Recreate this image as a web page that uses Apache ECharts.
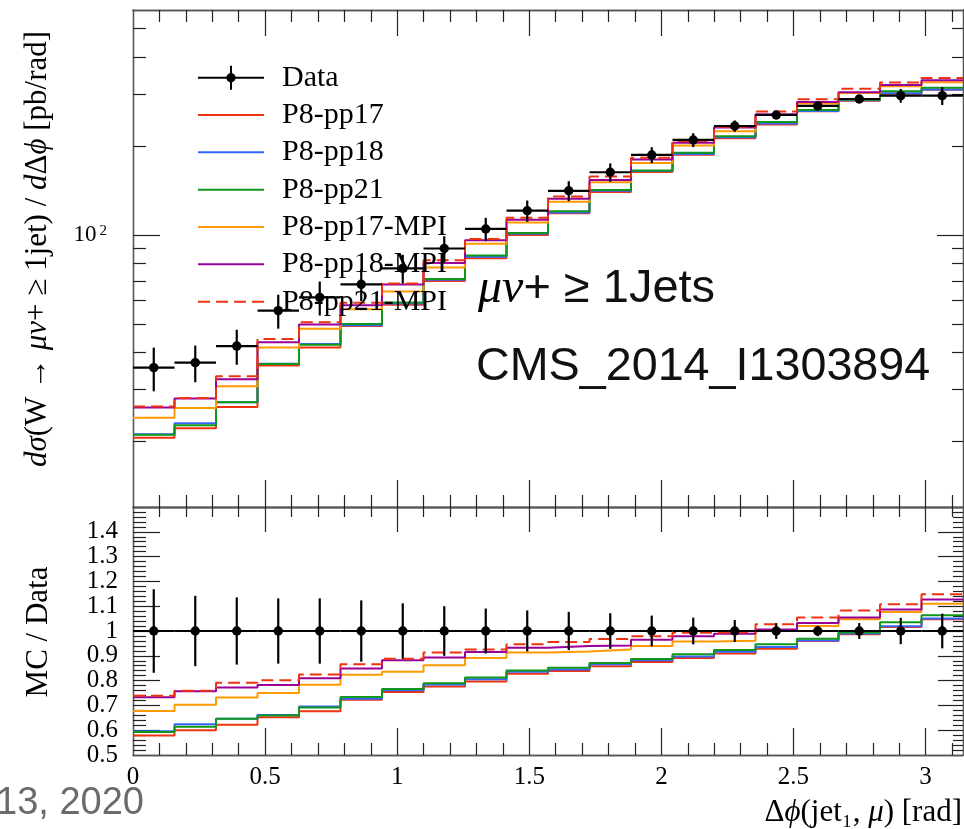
<!DOCTYPE html>
<html><head><meta charset="utf-8">
<script src="https://cdn.jsdelivr.net/npm/echarts@6/dist/echarts.min.js"></script>
<style>html,body{margin:0;padding:0;background:#fff}#c{width:964px;height:829px}</style>
</head><body><div id="c"></div>
<script>
// ---------------- data ----------------
const binEdges = [0, 0.1571, 0.3142, 0.4712, 0.6283, 0.7854, 0.9425, 1.0996, 1.2566, 1.4137, 1.5708,
  1.7279, 1.8850, 2.0420, 2.1991, 2.3562, 2.5133, 2.6704, 2.8274, 2.9845, 3.1416];
const dataVals = [35.6, 37.0, 42.1, 55.5, 61.5, 68.1, 77.1, 90.0, 104.8, 120.8, 141.1, 163.0, 186.5, 209.6, 233.7, 254.6, 273.2, 288.4, 296.0, 296.0];
const dataErr  = [6.0, 5.25, 5.7, 7.3, 8.1, 8.4, 8.6, 9.0, 9.5, 10.0, 10.9, 11.7, 11.6, 11.3, 10.3, 8.1, 5.7, 9.2, 15.7, 20.7];
const mcNames = ['P8-pp17', 'P8-pp18', 'P8-pp21', 'P8-pp17-MPI', 'P8-pp18-MPI', 'P8-pp21-MPI'];
const pp17    = [20.6, 22.2, 26.2, 36.2, 41.6, 49.2, 58.1, 69.9, 83.5, 100.0, 118.4, 139.9, 163.2, 186.8, 212.4, 236.5, 262.3, 284.7, 300.7, 309.9];
const pp18    = [21.2, 23.1, 27.2, 36.7, 42.8, 49.5, 58.7, 70.6, 84.4, 100.9, 119.2, 141.2, 164.5, 188.0, 214.1, 238.1, 262.6, 285.5, 301.6, 310.8];
const pp21    = [21.1, 22.7, 27.2, 36.6, 42.5, 50.0, 59.1, 71.0, 85.2, 101.6, 120.2, 142.0, 165.4, 189.9, 215.7, 240.9, 264.7, 286.7, 306.4, 314.7];
const pp17MPI = [24.1, 26.0, 30.8, 41.6, 48.2, 56.1, 64.4, 77.6, 93.4, 110.3, 129.5, 150.9, 175.3, 200.8, 224.4, 254.6, 278.7, 302.0, 318.8, 328.6];
const pp18MPI = [26.1, 28.0, 32.5, 43.4, 49.8, 57.8, 68.0, 80.4, 95.9, 112.6, 132.6, 153.4, 180.0, 205.2, 231.1, 256.1, 281.9, 304.0, 321.8, 333.6];
const pp21MPI = [26.3, 28.1, 33.3, 44.5, 50.7, 59.0, 68.5, 82.2, 97.0, 114.3, 134.9, 157.8, 182.6, 208.1, 232.5, 261.5, 288.0, 312.3, 328.0, 339.8];
const mcValues = [pp17, pp18, pp21, pp17MPI, pp18MPI, pp21MPI];
const xTickLabels = [0, 0.5, 1, 1.5, 2, 2.5, 3];
const ratioTickLabels = [0.5, 0.6, 0.7, 0.8, 0.9, 1, 1.1, 1.2, 1.3, 1.4];
const logTickLabels = [100];
const logMinorTicks = [20, 30, 40, 50, 60, 70, 80, 90, 200, 300, 400, 500];

// ---------------- styles ----------------
const mcColors = ['#EE3311', '#3366FF', '#109618', '#FF9900', '#990099', '#EE3311'];
const mcDash = ['solid', 'solid', 'solid', 'solid', 'solid', [12, 6]];
const SERIF = 'Liberation Serif';
const SANS = 'Liberation Sans';
const FRAME = '#555';
const TICK = '#222';

// tick helpers
const xMajor = [0.5, 1, 1.5, 2, 2.5, 3];
const xMinor = [];
for (let k = 1; k <= 31; k++) if (k % 5 !== 0) xMinor.push(+(k * 0.1).toFixed(2));
const rMajor = [0.6, 0.7, 0.8, 0.9, 1, 1.1, 1.2, 1.3, 1.4];
const rMinor = [];
for (let k = 26; k <= 74; k++) if (k % 5 !== 0) rMinor.push(+(k * 0.02).toFixed(2));
// labels split over two axes so that the library's overlap check never drops one
const ratioLabelsA = ratioTickLabels.filter((v, i) => i % 2 === 0);
const ratioLabelsB = ratioTickLabels.filter((v, i) => i % 2 === 1);

const XMAX = binEdges[binEdges.length - 1];

function xAx(grid, pos, ticks, len, labels) {
  return {
    type: 'value', gridIndex: grid, position: pos, min: 0, max: XMAX,
    axisLine: { show: true, onZero: false, lineStyle: { color: FRAME, width: 1.3 } },
    axisTick: { show: true, inside: true, length: len, customValues: ticks, lineStyle: { color: TICK, width: 1.2 } },
    axisLabel: labels ? {
      show: true, customValues: labels, margin: 10, showMinLabel: true, showMaxLabel: true,
      fontFamily: SERIF, fontSize: 25, color: '#000',
      formatter: v => String(Math.round(v * 10) / 10)
    } : { show: false },
    splitLine: { show: false }
  };
}
function yLog(pos, ticks, len, labels) {
  return {
    type: 'log', logBase: 10, gridIndex: 0, position: pos, min: 12.02, max: 576.8,
    axisLine: { show: true, onZero: false, lineStyle: { color: FRAME, width: 1.3 } },
    axisTick: { show: true, inside: true, length: len, customValues: ticks, lineStyle: { color: TICK, width: 1.2 } },
    axisLabel: labels ? {
      show: true, customValues: labels, margin: 26,
      formatter: () => '{a|10}{b|2}',
      rich: { a: { fontFamily: SERIF, fontSize: 23, color: '#000' },
              b: { fontFamily: SERIF, fontSize: 15, color: '#000', verticalAlign: 'top', padding: [0, 0, 0, 3] } }
    } : { show: false },
    splitLine: { show: false }
  };
}
function yRatio(pos, ticks, len, labels) {
  return {
    type: 'value', gridIndex: 1, position: pos, min: 0.5, max: 1.5,
    axisLine: { show: true, onZero: false, lineStyle: { color: FRAME, width: 1.3 } },
    axisTick: { show: true, inside: true, length: len, customValues: ticks, lineStyle: { color: TICK, width: 1.2 } },
    axisLabel: labels ? {
      show: true, customValues: labels, margin: 15, showMinLabel: true, showMaxLabel: true,
      fontFamily: SERIF, fontSize: 25, color: '#000',
      formatter: v => String(Math.round(v * 10) / 10)
    } : { show: false },
    splitLine: { show: false }
  };
}

function stepData(vals) {
  const pts = vals.map((v, i) => [binEdges[i], v]);
  pts.push([binEdges[binEdges.length - 1], vals[vals.length - 1]]);
  return pts;
}

function dataRender(params, api) {
  const xl = api.value(0), xh = api.value(1), xc = api.value(2), y = api.value(3), e = api.value(4);
  const pl = api.coord([xl, y]), ph = api.coord([xh, y]), pc = api.coord([xc, y]);
  const pt = api.coord([xc, y + e]), pb = api.coord([xc, y - e]);
  return { type: 'group', children: [
    { type: 'line', shape: { x1: pl[0], y1: pl[1], x2: ph[0], y2: ph[1] }, style: { stroke: '#000', lineWidth: 2.2 } },
    { type: 'line', shape: { x1: pc[0], y1: pt[1], x2: pc[0], y2: pb[1] }, style: { stroke: '#000', lineWidth: 2.2 } },
    { type: 'circle', shape: { cx: pc[0], cy: pc[1], r: 4.7 }, style: { fill: '#000' } }
  ] };
}

const upperData = dataVals.map((v, i) => [binEdges[i], binEdges[i + 1], (binEdges[i] + binEdges[i + 1]) / 2, v, dataErr[i]]);
const lowerData = dataVals.map((v, i) => [binEdges[i], binEdges[i + 1], (binEdges[i] + binEdges[i + 1]) / 2, 1, dataErr[i] / v]);

const series = [];
mcNames.forEach((n, k) => {
  series.push({
    name: n, type: 'line', step: 'end', xAxisIndex: 0, yAxisIndex: 0,
    data: stepData(mcValues[k]), symbol: 'none', z: 3,
    lineStyle: { color: mcColors[k], width: 2, type: mcDash[k] }, itemStyle: { color: mcColors[k] }
  });
  series.push({
    name: n, type: 'line', step: 'end', xAxisIndex: 4, yAxisIndex: 4,
    data: stepData(mcValues[k].map((v, i) => v / dataVals[i])), symbol: 'none', z: 3,
    lineStyle: { color: mcColors[k], width: 2, type: mcDash[k] }, itemStyle: { color: mcColors[k] }
  });
});
series.push({
  name: 'Data', type: 'custom', xAxisIndex: 0, yAxisIndex: 0, data: upperData,
  encode: { x: [0, 1, 2], y: 3 }, renderItem: dataRender, itemStyle: { color: '#000' }, z: 5
});
series.push({
  name: 'Data', type: 'custom', xAxisIndex: 4, yAxisIndex: 4, data: lowerData,
  encode: { x: [0, 1, 2], y: 3 }, renderItem: dataRender, itemStyle: { color: '#000' }, z: 5
});

const dataIcon = 'path://M0,11 H66 V13 H0 Z M32,0 H34 V24 H32 Z M28.3,12 A4.7,4.7 0 1,1 37.7,12 A4.7,4.7 0 1,1 28.3,12 Z';

const option = {
  animation: false,
  backgroundColor: '#fff',
  grid: [
    { left: 133, top: 10, width: 830, height: 497 },
    { left: 133, top: 507, width: 830, height: 248 }
  ],
  xAxis: [
    xAx(0, 'bottom', xMajor, 27), xAx(0, 'bottom', xMinor, 12),
    xAx(0, 'top', xMajor, 26), xAx(0, 'top', xMinor, 12),
    xAx(1, 'bottom', xMajor, 27, xTickLabels), xAx(1, 'bottom', xMinor, 12),
    xAx(1, 'top', xMajor, 25), xAx(1, 'top', xMinor, 10)
  ],
  yAxis: [
    yLog('left', logTickLabels, 27, logTickLabels), yLog('left', logMinorTicks, 13),
    yLog('right', logTickLabels, 26), yLog('right', logMinorTicks, 11),
    yRatio('left', rMajor, 27, ratioLabelsA), yRatio('left', rMinor, 13, ratioLabelsB),
    yRatio('right', rMajor, 25), yRatio('right', rMinor, 10)
  ],
  legend: {
    orient: 'vertical', left: 192, top: 57.7, itemWidth: 66, itemHeight: 24, itemGap: 7.33,
    selectedMode: false,
    data: [{ name: 'Data', icon: dataIcon }].concat(mcNames.map(n => ({ name: n, itemStyle: { opacity: 0 } }))),
    textStyle: { fontFamily: SERIF, fontSize: 30, color: '#000', padding: [0, 0, 0, 13] }
  },
  series: series,
  graphic: [
    { type: 'text', x: 478, y: 289, z: 10, style: {
      text: '{m|μν}{s|+ ≥ 1Jets}', verticalAlign: 'middle',
      rich: { m: { fontFamily: SERIF, fontStyle: 'italic', fontSize: 48, fill: '#000' },
              s: { fontFamily: SANS, fontSize: 47, fill: '#111' } } } },
    { type: 'text', x: 476, y: 366.7, z: 10, style: {
      text: 'CMS_2014_I1303894', fontFamily: SANS, fontSize: 46.7, fill: '#111', verticalAlign: 'middle' } },
    { type: 'text', x: 38, y: 249, rotation: Math.PI / 2, z: 10, style: {
      text: '{i|dσ}{n|(W → }{i|μν}{n|+ ≥ 1jet) / }{i|d}{n|Δ}{i|ϕ}{n| [pb/rad]}', align: 'center', verticalAlign: 'middle',
      rich: { i: { fontFamily: SERIF, fontStyle: 'italic', fontSize: 31, fill: '#000' },
              n: { fontFamily: SERIF, fontSize: 31, fill: '#000' } } } },
    { type: 'text', x: 39, y: 632, rotation: Math.PI / 2, z: 10, style: {
      text: 'MC / Data', align: 'center', verticalAlign: 'middle', fontFamily: SERIF, fontSize: 31, fill: '#000' } },
    { type: 'text', x: 962, y: 813, z: 10, style: {
      text: '{n|Δ}{i|ϕ}{n|(jet₁, }{i|μ}{n|) [rad]}', align: 'right', verticalAlign: 'middle',
      rich: { i: { fontFamily: SERIF, fontStyle: 'italic', fontSize: 31, fill: '#000' },
              n: { fontFamily: SERIF, fontSize: 31, fill: '#000' } } } },
    { type: 'text', x: 144, y: 804, z: 10, style: {
      text: '13, 2020', align: 'right', verticalAlign: 'middle', fontFamily: SANS, fontSize: 38, fill: '#6b6b6b' } }
  ]
};

const chart = echarts.init(document.getElementById('c'), null, { renderer: 'canvas' });
chart.setOption(option);
</script>
</body></html>
